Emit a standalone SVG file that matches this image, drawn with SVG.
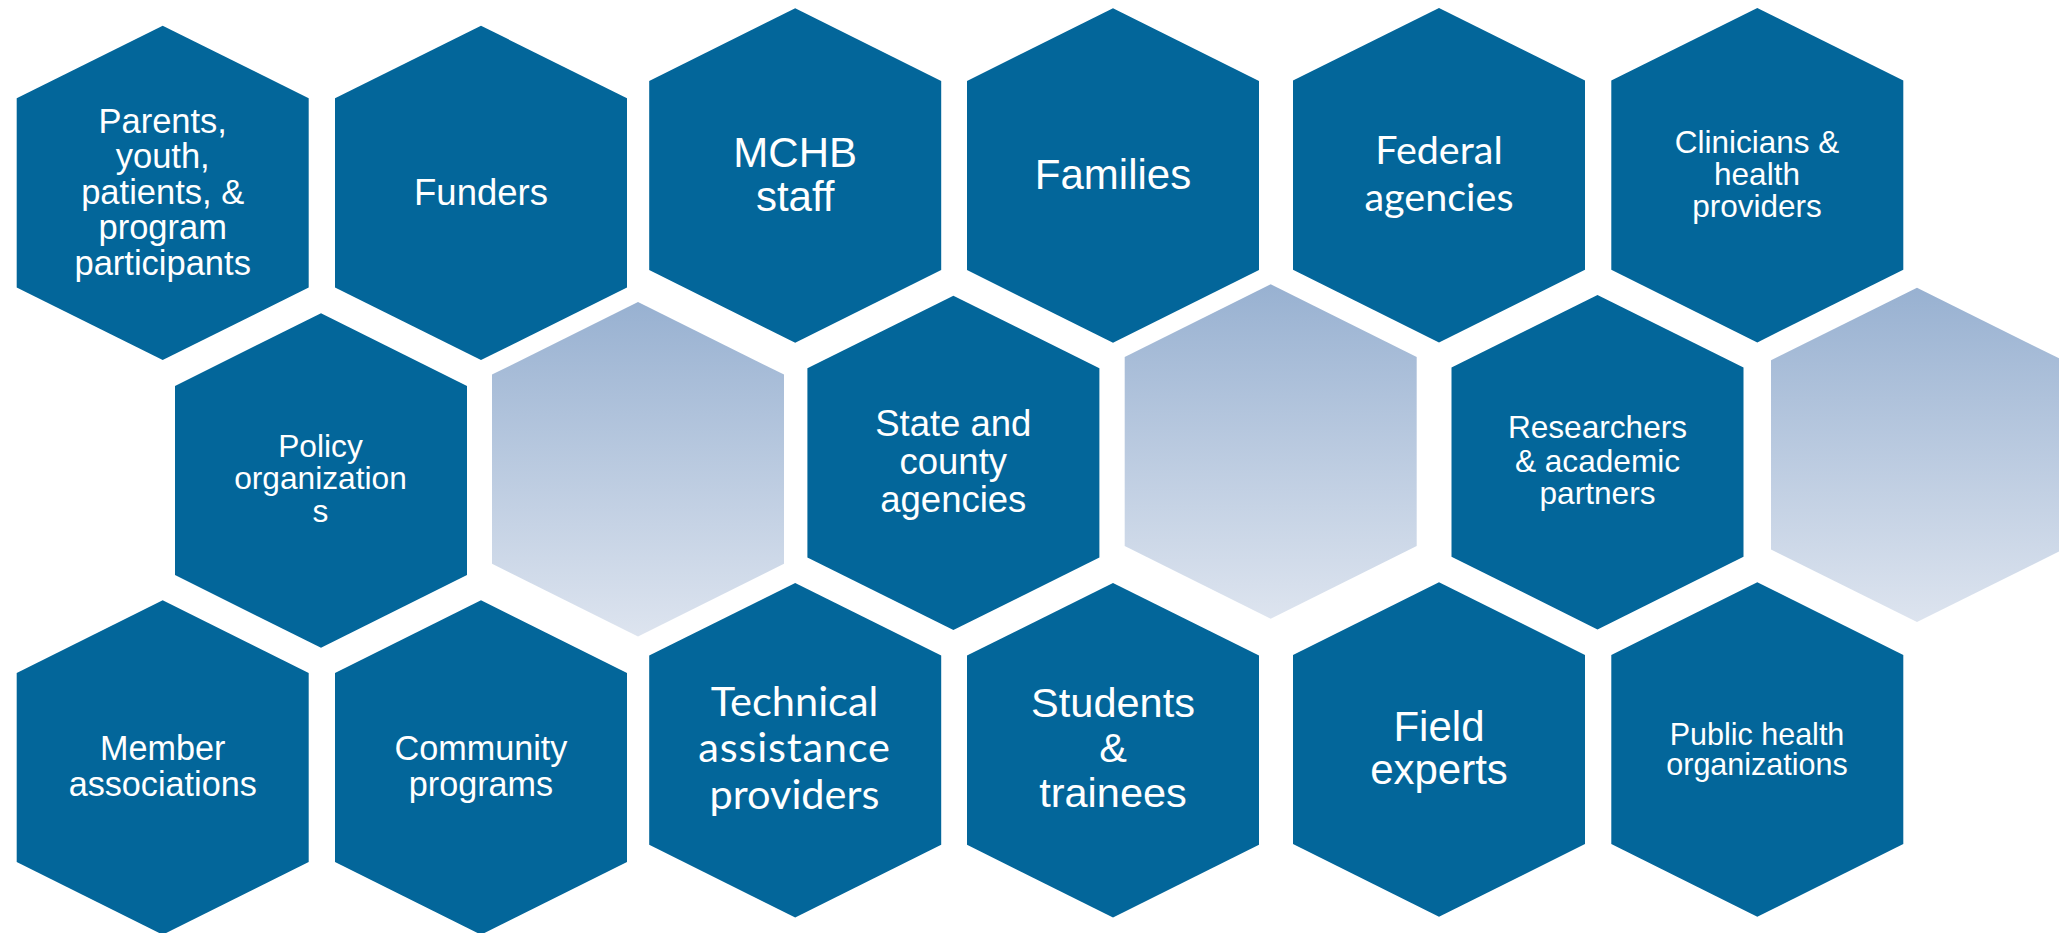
<svg xmlns="http://www.w3.org/2000/svg" xmlns:xlink="http://www.w3.org/1999/xlink" width="2059" height="933" viewBox="0 0 2059 933">
<style>
.hx{fill:#03669A}
.gx{fill:url(#g)}
text{fill:#ffffff;text-anchor:middle}
.a{font-family:"Liberation Sans",Arial,sans-serif}
.c{font-family:Lato,"Liberation Sans",sans-serif}
</style>
<defs>
<linearGradient id="g" x1="0" y1="0" x2="0" y2="1">
<stop offset="0" stop-color="#98B1D1"/>
<stop offset="1" stop-color="#DDE4EF"/>
</linearGradient>
<polygon id="hex" points="0,0 146,72.6 146,261.8 0,334.4 -146,261.8 -146,72.6"/>
</defs>
<rect width="2059" height="933" fill="#ffffff"/>
<g id="connectors"></g>

<g id="n-parents"><use xlink:href="#hex" class="hx" x="162.7" y="25.7"/>
<text class="a" font-size="34.5"><tspan x="162.7" y="132.7">Parents,</tspan><tspan x="162.7" y="168.3">youth,</tspan><tspan x="162.7" y="204">patients, &amp;</tspan><tspan x="162.7" y="239.3">program</tspan><tspan x="162.7" y="275">participants</tspan></text></g>

<g id="n-funders"><use xlink:href="#hex" class="hx" x="481" y="25.7"/>
<text class="a" font-size="36.5" x="481" y="205">Funders</text></g>

<g id="n-mchb"><use xlink:href="#hex" class="hx" x="795.2" y="8.3"/>
<text class="a" font-size="42"><tspan x="795.2" y="166.7">MCHB</tspan><tspan x="795.2" y="210.7">staff</tspan></text></g>

<g id="n-families"><use xlink:href="#hex" class="hx" x="1113" y="8.3"/>
<text class="a" font-size="42" x="1113" y="189.3">Families</text></g>

<g id="n-federal"><use xlink:href="#hex" class="hx" x="1439" y="8"/>
<text class="c" font-size="39.5"><tspan x="1439" y="164">Federal</tspan><tspan x="1439" y="210.7">agencies</tspan></text></g>

<g id="n-clinicians"><use xlink:href="#hex" class="hx" x="1757.3" y="8"/>
<text class="a" font-size="31.5"><tspan x="1757" y="152.7">Clinicians &amp;</tspan><tspan x="1757" y="184.8">health</tspan><tspan x="1757" y="217">providers</tspan></text></g>

<g id="n-policy"><use xlink:href="#hex" class="hx" x="321" y="313.3"/>
<text class="a" font-size="31.7"><tspan x="320.5" y="456.7">Policy</tspan><tspan x="320.5" y="489.3">organization</tspan><tspan x="320.5" y="522.3">s</tspan></text></g>

<g id="n-blank1"><use xlink:href="#hex" class="gx" x="638" y="302"/></g>

<g id="n-state"><use xlink:href="#hex" class="hx" x="953.4" y="295.7"/>
<text class="a" font-size="36.5"><tspan x="953.3" y="435.7">State and</tspan><tspan x="953.3" y="474">county</tspan><tspan x="953.3" y="511.7">agencies</tspan></text></g>

<g id="n-blank2"><use xlink:href="#hex" class="gx" x="1270.7" y="284.3"/></g>

<g id="n-researchers"><use xlink:href="#hex" class="hx" x="1597.5" y="295"/>
<text class="a" font-size="31.6"><tspan x="1597.5" y="438.3">Researchers</tspan><tspan x="1597.5" y="471.7">&amp; academic</tspan><tspan x="1597.5" y="504.3">partners</tspan></text></g>

<g id="n-blank3"><use xlink:href="#hex" class="gx" x="1917" y="287.7"/></g>

<g id="n-member"><use xlink:href="#hex" class="hx" x="162.7" y="600.3"/>
<text class="a" font-size="34.2"><tspan x="162.7" y="759.7">Member</tspan><tspan x="162.7" y="795.7">associations</tspan></text></g>

<g id="n-community"><use xlink:href="#hex" class="hx" x="481" y="600.3"/>
<text class="a" font-size="34.2"><tspan x="481" y="759.7">Community</tspan><tspan x="481" y="795.7">programs</tspan></text></g>

<g id="n-technical"><use xlink:href="#hex" class="hx" x="795.2" y="583"/>
<text class="c" font-size="41.5"><tspan x="794.5" y="715.7">Technical</tspan><tspan x="794.5" y="762.3" letter-spacing="0.8">assistance</tspan><tspan x="794.5" y="809">providers</tspan></text></g>

<g id="n-students"><use xlink:href="#hex" class="hx" x="1113" y="583"/>
<text class="a" font-size="41.5"><tspan x="1113" y="717.3">Students</tspan><tspan x="1113" y="761.7">&amp;</tspan><tspan x="1113" y="806.7">trainees</tspan></text></g>

<g id="n-field"><use xlink:href="#hex" class="hx" x="1439" y="582.3"/>
<text class="a" font-size="42"><tspan x="1439" y="741.3">Field</tspan><tspan x="1439" y="783.7">experts</tspan></text></g>

<g id="n-public"><use xlink:href="#hex" class="hx" x="1757.3" y="582.3"/>
<text class="a" font-size="30.5"><tspan x="1757" y="745">Public health</tspan><tspan x="1757" y="775">organizations</tspan></text></g>
</svg>
